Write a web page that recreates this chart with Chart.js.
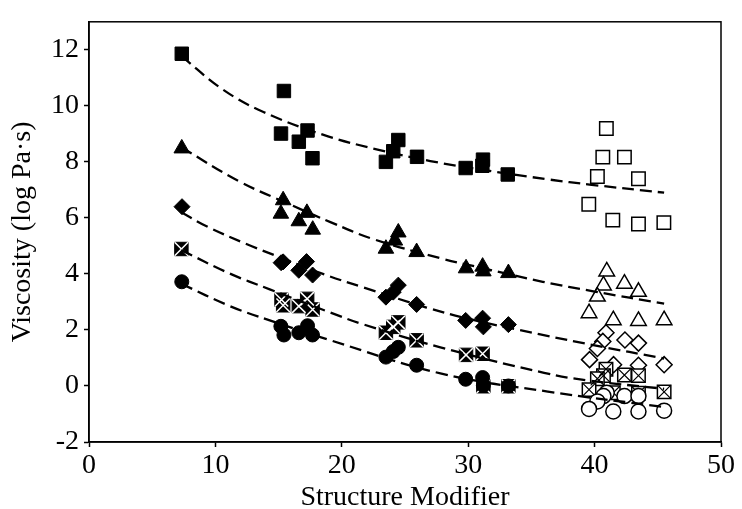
<!DOCTYPE html>
<html>
<head>
<meta charset="utf-8">
<script src="https://cdn.jsdelivr.net/npm/chart.js@4"></script>
<style>
  body { margin: 0; background: #fff; }
</style>
</head>
<body>
<canvas id="viscChart" width="742" height="509"></canvas>
<script>
// axis ticks
const xTicks = [0, 10, 20, 30, 40, 50];
const yTicks = [-2, 0, 2, 4, 6, 8, 10, 12];

// filled markers
const sqX = [7.34, 15.42, 15.19, 17.29, 16.6, 17.68, 24.47, 24.07, 23.49, 25.95, 29.8, 31.17, 31.12, 33.13];
const sqY = [11.86, 10.53, 9.01, 9.12, 8.72, 8.13, 8.78, 8.38, 8.0, 8.18, 7.78, 8.08, 7.86, 7.55];
const triX = [7.34, 15.36, 15.18, 16.6, 17.24, 17.7, 24.47, 24.2, 23.49, 25.92, 29.83, 31.14, 31.2, 33.18];
const triY = [8.48, 6.63, 6.15, 5.88, 6.18, 5.58, 5.48, 5.19, 4.9, 4.78, 4.2, 4.26, 4.09, 4.03];
const diaX = [7.36, 15.2, 15.36, 16.6, 17.21, 17.69, 24.47, 24.07, 23.49, 25.92, 29.8, 31.14, 31.2, 33.18];
const diaY = [6.4, 4.4, 4.43, 4.13, 4.44, 3.96, 3.6, 3.35, 3.17, 2.91, 2.34, 2.42, 2.11, 2.19];
const xsqX = [7.31, 15.23, 15.36, 16.6, 17.26, 17.69, 24.47, 24.07, 23.49, 25.92, 29.83, 31.14, 31.2, 33.18];
const xsqY = [4.89, 3.08, 2.88, 2.85, 3.11, 2.73, 2.27, 2.11, 1.9, 1.63, 1.11, 1.15, -0.01, -0.01];
const cirX = [7.34, 15.18, 15.42, 16.6, 17.29, 17.68, 24.47, 24.07, 23.49, 25.92, 29.8, 31.14, 31.2, 33.18];
const cirY = [3.72, 2.13, 1.82, 1.9, 2.15, 1.82, 1.38, 1.23, 1.03, 0.74, 0.24, 0.3, 0.02, 0.0];

// open markers
const oSqX = [40.93, 40.65, 42.36, 40.22, 43.47, 39.54, 41.44, 43.47, 45.48];
const oSqY = [9.19, 8.17, 8.17, 7.48, 7.4, 6.49, 5.92, 5.78, 5.83];
const oTriX = [40.96, 40.7, 42.36, 43.47, 40.22, 39.56, 41.48, 43.47, 45.5];
const oTriY = [4.09, 3.59, 3.65, 3.36, 3.19, 2.6, 2.35, 2.32, 2.35];
const oDiaX = [40.9, 40.65, 42.4, 43.47, 40.22, 39.6, 41.5, 43.47, 45.5];
const oDiaY = [1.9, 1.59, 1.64, 1.53, 1.34, 0.94, 0.76, 0.74, 0.76];
const oXsqX = [40.9, 40.7, 42.36, 43.47, 40.22, 39.56, 41.48, 43.47, 45.5];
const oXsqY = [0.6, 0.37, 0.39, 0.37, 0.26, -0.13, -0.24, -0.26, -0.21];
const oCirX = [40.96, 40.7, 42.36, 43.47, 40.22, 39.56, 41.48, 43.47, 45.5];
const oCirY = [-0.24, -0.36, -0.36, -0.36, -0.55, -0.82, -0.91, -0.91, -0.88];

// dashed fit curves
const fitSqX = [7.3, 10.6, 13.8, 18.5, 23, 27, 31.2, 36.4, 39.6, 45.5];
const fitSqY = [11.78, 10.58, 9.78, 8.97, 8.42, 8.03, 7.71, 7.37, 7.19, 6.9];
const fitTriX = [7.3, 11.9, 15.9, 19.1, 22.5, 27.8, 31, 35.9, 40, 45.5];
const fitTriY = [8.52, 7.3, 6.48, 5.85, 5.24, 4.56, 4.22, 3.72, 3.37, 2.94];
const fitDiaX = [7.3, 9.3, 12.5, 15.3, 18.5, 21.7, 26.7, 30, 35.7, 40, 45.5];
const fitDiaY = [6.2, 5.7, 5.06, 4.56, 4.0, 3.52, 2.8, 2.4, 1.84, 1.45, 0.98];
const fitXsqX = [7.3, 11.1, 14.3, 19.1, 21.7, 27.8, 36, 39.4, 45.5];
const fitXsqY = [4.85, 4.02, 3.45, 2.62, 2.2, 1.38, 0.47, 0.2, -0.1];
const fitCirX = [7.3, 11.1, 14.3, 19.1, 27.8, 36.3, 45.5];
const fitCirY = [3.65, 2.86, 2.34, 1.63, 0.45, -0.2, -0.75];

function pts(xs, ys) {
    return xs.map((x, i) => ({ x: x, y: ys[i] }));
}

function fitLine(xs, ys) {
    return {
        data: pts(xs, ys),
        showLine: true,
        borderColor: '#000',
        borderWidth: 2.3,
        borderDash: [12, 6],
        pointRadius: 0,
        tension: 0.4
    };
}

function markers(xs, ys, style, r, fill, stroke, bw) {
    return {
        data: pts(xs, ys),
        pointStyle: style,
        pointRadius: r,
        backgroundColor: fill,
        borderColor: stroke,
        borderWidth: bw,
        showLine: false
    };
}

// box round the plot area
const framePlugin = {
    id: 'frame',
    beforeDatasetsDraw(chart) {
        const { ctx, chartArea: a } = chart;
        ctx.save();
        ctx.strokeStyle = '#000';
        ctx.lineWidth = 1.5;
        ctx.strokeRect(a.left, a.top, a.right - a.left, a.bottom - a.top);
        ctx.restore();
    }
};

Chart.defaults.font.family = '"Liberation Serif", "DejaVu Serif", serif';
Chart.defaults.color = '#000';

// first dataset is drawn on top
new Chart(document.getElementById('viscChart'), {
    type: 'scatter',
    data: {
        datasets: [
            fitLine(fitSqX, fitSqY),
            fitLine(fitTriX, fitTriY),
            fitLine(fitDiaX, fitDiaY),
            fitLine(fitXsqX, fitXsqY),
            fitLine(fitCirX, fitCirY),
            markers(cirX, cirY, 'circle', 7, '#000', '#000', 1),
            markers(xsqX, xsqY, 'crossRot', 9.5, '#fff', '#fff', 1.5),
            markers(xsqX, xsqY, 'rect', 9.5, '#000', '#000', 1),
            markers(diaX, diaY, 'rectRot', 8, '#000', '#000', 1),
            markers(triX, triY, 'triangle', 9, '#000', '#000', 1),
            markers(sqX, sqY, 'rect', 9.5, '#000', '#000', 1),
            markers(oCirX, oCirY, 'circle', 7.5, '#fff', '#000', 1.5),
            markers(oXsqX, oXsqY, 'crossRot', 9.5, '#000', '#000', 1.2),
            markers(oXsqX, oXsqY, 'rect', 9.5, '#fff', '#000', 1.5),
            markers(oDiaX, oDiaY, 'rectRot', 8, '#fff', '#000', 1.5),
            markers(oTriX, oTriY, 'triangle', 9, '#fff', '#000', 1.5),
            markers(oSqX, oSqY, 'rect', 9.5, '#fff', '#000', 1.5)
        ]
    },
    options: {
        responsive: false,
        animation: false,
        layout: { padding: { top: 11, right: 21, left: 0, bottom: 0 } },
        plugins: {
            legend: { display: false },
            tooltip: { enabled: false }
        },
        scales: {
            x: {
                type: 'linear',
                min: 0,
                max: 50,
                afterBuildTicks: s => { s.ticks = xTicks.map(v => ({ value: v })); },
                afterFit: s => { s.height = 67; },
                grid: { drawOnChartArea: false, tickLength: 5, tickColor: '#000', tickWidth: 1.5 },
                border: { color: '#000', width: 1.5 },
                ticks: { color: '#000', padding: 2, maxRotation: 0, font: { size: 28 } },
                title: {
                    display: true,
                    text: 'Structure Modifier',
                    color: '#000',
                    padding: 0,
                    font: { size: 28, lineHeight: 0.8 }
                }
            },
            y: {
                type: 'linear',
                min: -2,
                max: 13,
                afterBuildTicks: s => { s.ticks = yTicks.map(v => ({ value: v })); },
                afterFit: s => { s.width = 89; },
                grid: { drawOnChartArea: false, tickLength: 5, tickColor: '#000', tickWidth: 1.5 },
                border: { color: '#000', width: 1.5 },
                ticks: { color: '#000', padding: 5, font: { size: 28 } },
                title: {
                    display: true,
                    text: 'Viscosity (log Pa·s)',
                    color: '#000',
                    padding: { top: 6, bottom: 0 },
                    font: { size: 28 }
                }
            }
        }
    },
    plugins: [framePlugin]
});
</script>
</body>
</html>
